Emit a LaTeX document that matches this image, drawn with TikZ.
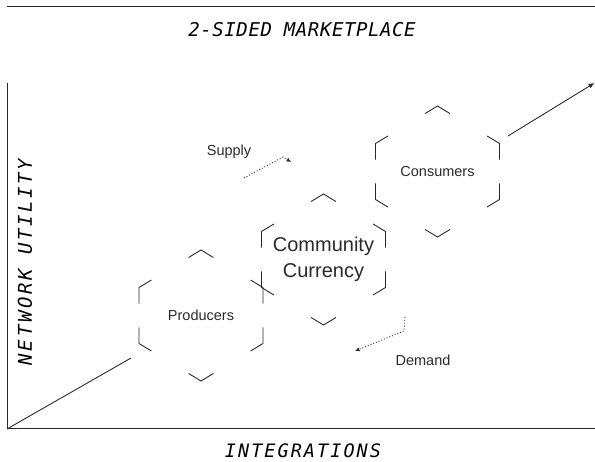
\documentclass[tikz,border=0pt]{standalone}
\usepackage{fontspec}
\setmainfont{Liberation Sans}
\newfontfamily\lcdfont{DejaVu Sans Mono}
\usetikzlibrary{calc,arrows.meta}
\definecolor{ink}{HTML}{2A2A2A}
\tikzset{
  hexline/.style={draw=ink,line width=0.9pt},
  axisline/.style={draw=ink,line width=1pt},
  lbl/.style={text=ink,font=\fontsize{14.5}{17}\selectfont,inner sep=0pt},
  biglbl/.style={text=ink,font=\fontsize{20}{26}\selectfont,align=center,inner sep=0pt},
  axlbl/.style={text=black,inner sep=0pt},
  flow/.style={draw=ink,line width=0.9pt,dotted,-{Latex[length=4.5pt,width=4.5pt]}},
}
\newcommand\hexframe[1]{%
  \begin{scope}[shift={(#1)}]
    \coordinate (#1-T) at (0,-65.5);
    \coordinate (#1-UR) at (62,-28);
    \coordinate (#1-LR) at (62,28);
    \coordinate (#1-B) at (0,65.5);
    \coordinate (#1-LL) at (-62,28);
    \coordinate (#1-UL) at (-62,-28);
  \end{scope}
  \draw[hexline] ($(#1-T)!0.2!(#1-UL)$) -- (#1-T) -- ($(#1-T)!0.2!(#1-UR)$);
  \draw[hexline] ($(#1-UR)!0.2!(#1-T)$) -- (#1-UR) -- ($(#1-UR)!0.29!(#1-LR)$);
  \draw[hexline] ($(#1-LR)!0.29!(#1-UR)$) -- (#1-LR) -- ($(#1-LR)!0.2!(#1-B)$);
  \draw[hexline] ($(#1-B)!0.2!(#1-LR)$) -- (#1-B) -- ($(#1-B)!0.2!(#1-LL)$);
  \draw[hexline] ($(#1-LL)!0.2!(#1-B)$) -- (#1-LL) -- ($(#1-LL)!0.29!(#1-UL)$);
  \draw[hexline] ($(#1-UL)!0.29!(#1-LL)$) -- (#1-UL) -- ($(#1-UL)!0.2!(#1-T)$);
}
\begin{document}
\begin{tikzpicture}[x=1pt,y=-1pt]
  \useasboundingbox (0,0) rectangle (595,462);
  % top rule and title
  \coordinate (tl) at (7,7);
  \coordinate (tr) at (595,7);
  \draw[axisline] (tl) -- (tr);
  \node[axlbl,font=\lcdfont\itshape\fontsize{19}{22}\selectfont\addfontfeature{LetterSpace=3}] (title) at (302,30) {2-SIDED MARKETPLACE};
  % axes
  \coordinate (O) at (7,429);
  \coordinate (ytop) at (7,83);
  \coordinate (xend) at (595,429);
  \draw[axisline] (ytop) -- (O) -- (xend);
  \node[axlbl,rotate=90,font=\lcdfont\itshape\fontsize{19}{22}\selectfont\addfontfeature{LetterSpace=14}] (ylab) at (25,262) {NETWORK UTILITY};
  \node[axlbl,font=\lcdfont\itshape\fontsize{18.5}{22}\selectfont\addfontfeature{LetterSpace=11}] (xlab) at (303,451) {INTEGRATIONS};
  % diagonal growth line
  \coordinate (d1) at (131,358);
  \coordinate (d2) at (508,136);
  \coordinate (d3) at (594.5,83);
  \draw[hexline] (O) -- (d1);
  \draw[hexline,-{Latex[length=6pt,width=5pt]}] (d2) -- (d3);
  % hexagons
  \node[lbl] (P) at (201,315.5) {Producers};
  \node[biglbl] (C) at (323.5,259.5) {Community\\Currency};
  \node[lbl] (K) at (437.5,171.5) {Consumers};
  \hexframe{P}
  \hexframe{C}
  \hexframe{K}
  % supply / demand flows
  \node[lbl] (sup) at (229,152) {Supply};
  \node[lbl] (dem) at (423,360) {Demand};
  \coordinate (s1) at (244,178);
  \coordinate (s2) at (283,157);
  \coordinate (s3) at (291,162);
  \draw[flow] (s1) -- (s2) -- (s3);
  \coordinate (m1) at (405,317);
  \coordinate (m2) at (404,331);
  \coordinate (m3) at (355,351);
  \draw[flow] (m1) -- (m2) -- (m3);
\end{tikzpicture}
\end{document}
